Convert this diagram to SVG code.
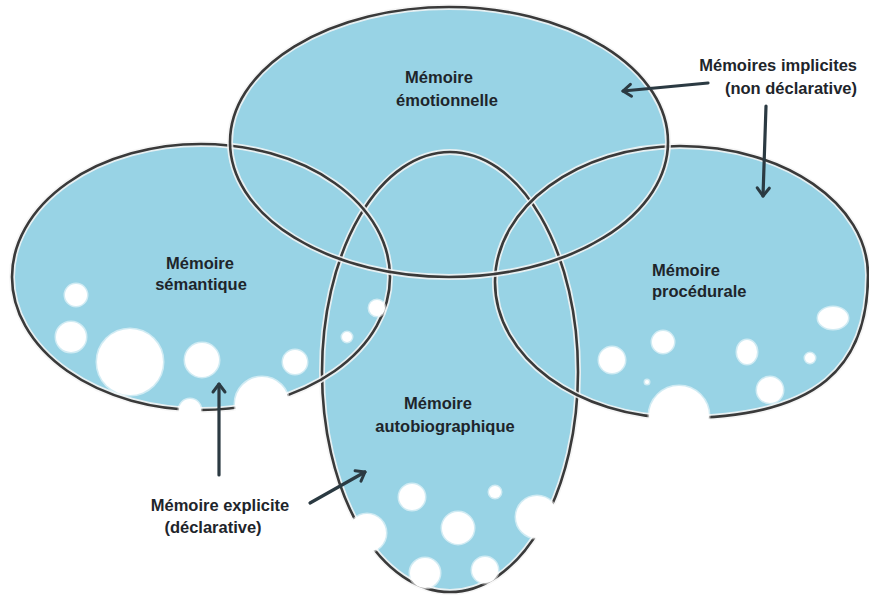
<svg xmlns="http://www.w3.org/2000/svg" xmlns:xlink="http://www.w3.org/1999/xlink" width="869" height="601" viewBox="0 0 869 601">
<style>
.fill{fill:#98d3e5;stroke:none}
.halo{fill:none;stroke:#f4f4f4;stroke-width:6;opacity:0.85}
.line{fill:none;stroke:#3a3a3a;stroke-width:2.6}
.lbl{font-family:"Liberation Sans",Arial,sans-serif;font-weight:bold;font-size:16.5px;fill:#1e252b}
.bub{fill:#ffffff;stroke:#ffffff;stroke-opacity:0.55;stroke-width:3}
.arr{fill:none;stroke:#2b3a42;stroke-width:3.2;stroke-linecap:round;marker-end:url(#ah)}
</style>
<defs>
<ellipse id="s-emo" cx="449" cy="142" rx="219" ry="135"/>
<ellipse id="s-sem" cx="201" cy="277" rx="189" ry="133"/>
<path id="s-pro" d="M495,282 C495,207 578,146 680,146 C784,146 868,204 868,275 C868,365 820,418 680,418 C578,418 495,357 495,282 Z"/>
<ellipse id="s-aut" cx="450" cy="372" rx="128" ry="220"/>
<marker id="ah" viewBox="-11 -9 14 18" refX="0" refY="0" markerWidth="14" markerHeight="18" markerUnits="userSpaceOnUse" orient="auto">
<path d="M-8,-6 L0,0 L-8,6" fill="none" stroke="#2b3a42" stroke-width="3" stroke-linecap="round" stroke-linejoin="round"/>
</marker>
</defs>
<rect width="869" height="601" fill="#ffffff"/>
<g id="fills">
<use xlink:href="#s-emo" class="fill"/>
<use xlink:href="#s-sem" class="fill"/>
<use xlink:href="#s-pro" class="fill"/>
<use xlink:href="#s-aut" class="fill"/>
</g>
<g id="autobiographique">
<use xlink:href="#s-aut" class="halo"/>
<use xlink:href="#s-aut" class="line"/>
<text class="lbl" x="438" y="409" text-anchor="middle">Mémoire</text>
<text class="lbl" x="445" y="432" text-anchor="middle">autobiographique</text>
</g>
<g id="semantique">
<use xlink:href="#s-sem" class="halo"/>
<use xlink:href="#s-sem" class="line"/>
<text class="lbl" x="200" y="269" text-anchor="middle">Mémoire</text>
<text class="lbl" x="201" y="290" text-anchor="middle">sémantique</text>
</g>
<g id="procedurale">
<use xlink:href="#s-pro" class="halo"/>
<use xlink:href="#s-pro" class="line"/>
<text class="lbl" x="652" y="276">Mémoire</text>
<text class="lbl" x="652" y="297">procédurale</text>
</g>
<g id="emotionnelle">
<use xlink:href="#s-emo" class="halo"/>
<use xlink:href="#s-emo" class="line"/>
<text class="lbl" x="439" y="83" text-anchor="middle">Mémoire</text>
<text class="lbl" x="447" y="106" text-anchor="middle">émotionnelle</text>
</g>
<g id="bubbles">
<circle class="bub" cx="76" cy="295" r="11"/>
<circle class="bub" cx="71" cy="337" r="15"/>
<circle class="bub" cx="130" cy="362" r="33"/>
<circle class="bub" cx="202" cy="360" r="17"/>
<circle class="bub" cx="295" cy="362" r="12"/>
<circle class="bub" cx="262" cy="404" r="27"/>
<circle class="bub" cx="190" cy="410" r="11"/>
<circle class="bub" cx="377" cy="308" r="8"/>
<circle class="bub" cx="347" cy="337" r="5"/>
<ellipse class="bub" cx="833" cy="318" rx="15" ry="11"/>
<circle class="bub" cx="663" cy="342" r="11"/>
<circle class="bub" cx="612" cy="360" r="13"/>
<ellipse class="bub" cx="747" cy="352" rx="10" ry="12"/>
<circle class="bub" cx="810" cy="358" r="5"/>
<circle class="bub" cx="770" cy="390" r="13"/>
<circle class="bub" cx="679" cy="416" r="30"/>
<circle class="bub" cx="647" cy="382" r="2"/>
<circle class="bub" cx="412" cy="497" r="13"/>
<circle class="bub" cx="495" cy="492" r="6"/>
<circle class="bub" cx="458" cy="528" r="16"/>
<circle class="bub" cx="537" cy="517" r="21"/>
<circle class="bub" cx="367" cy="533" r="19"/>
<circle class="bub" cx="425" cy="573" r="15"/>
<circle class="bub" cx="485" cy="570" r="13"/>
</g>
<g id="connectors">
<path class="arr" d="M708,83 L623,91"/>
<path class="arr" d="M766,106 L763,196"/>
<path class="arr" d="M219,475 L219,384"/>
<path class="arr" d="M310,503 L365,472"/>
</g>
<g id="labels">
<text class="lbl" x="857" y="71" text-anchor="end">Mémoires implicites</text>
<text class="lbl" x="857" y="94" text-anchor="end">(non déclarative)</text>
<text class="lbl" x="220" y="511" text-anchor="middle">Mémoire explicite</text>
<text class="lbl" x="213" y="533" text-anchor="middle">(déclarative)</text>
</g>
</svg>
